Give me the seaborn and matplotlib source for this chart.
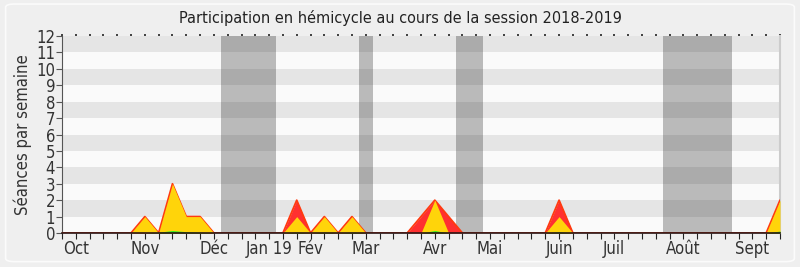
import matplotlib
matplotlib.use("Agg")
import matplotlib.pyplot as plt
from matplotlib.patches import FancyBboxPatch
import numpy as np
import pandas as pd
import seaborn as sns

# Weekly sitting counts for the 2018-2019 session (week 0 = start of October)
weeks = list(range(53))
presences = [0, 0, 0, 0, 0, 0, 1, 0, 3, 1, 1, 0, 0, 0, 0, 0, 0, 2, 0, 1,
             0, 1, 0, 0, 0, 0, 1, 2, 1, 0, 0, 0, 0, 0, 0, 0, 2, 0, 0, 0,
             0, 0, 0, 0, 0, 0, 0, 0, 0, 0, 0, 0, 2]
interventions = [0, 0, 0, 0, 0, 0, 1, 0, 3, 1, 1, 0, 0, 0, 0, 0, 0, 1, 0, 1,
                 0, 1, 0, 0, 0, 0, 0, 2, 0, 0, 0, 0, 0, 0, 0, 0, 1, 0, 0, 0,
                 0, 0, 0, 0, 0, 0, 0, 0, 0, 0, 0, 0, 2]
questions = [0, 0, 0, 0, 0, 0, 0, 0.05, 0.15, 0.08, 0.05, 0, 0, 0, 0, 0, 0, 0.05, 0, 0.05,
             0, 0.05, 0, 0, 0, 0, 0, 0.15, 0, 0, 0, 0, 0, 0, 0, 0, 0.08, 0, 0, 0,
             0, 0, 0, 0, 0, 0, 0, 0, 0, 0, 0, 0, 0.12]

# Month labels placed on the week axis
month_pos = [1, 6, 11, 15, 18, 22, 27, 31, 36, 40, 45, 50]
month_labels = ["Oct", "Nov", "Déc", "Jan 19", "Fév", "Mar", "Avr", "Mai",
                "Juin", "Juil", "Août", "Sept"]

# Parliamentary recess periods (week ranges)
recess_start = [11.5, 21.5, 28.5, 43.5]
recess_end = [15.5, 22.5, 30.5, 48.5]

df = pd.DataFrame({"semaine": weeks, "presences": presences,
                   "interventions": interventions, "questions": questions})

sns.set_theme(style="white")
plt.rcParams["font.family"] = ["DejaVu Sans"]
plt.rcParams["font.stretch"] = "condensed"

fig = plt.figure(figsize=(8, 2.67), dpi=100, facecolor="#efefef")
ax = fig.add_axes([0.0775, 0.1273, 0.8975, 0.7377])

border = FancyBboxPatch((0.007, 0.02), 0.986, 0.965, boxstyle="round,pad=0,rounding_size=0.012",
                        transform=fig.transFigure, facecolor="none", edgecolor="#fbfbfb",
                        linewidth=1.2, zorder=0)
fig.patches.append(border)

ymax = 12
xmax = 52
ax.set_facecolor("#fafafa")
for k in range(1, ymax, 2):
    ax.axhspan(k, k + 1, color="#e5e5e5", lw=0, zorder=0)

for s, e in zip(recess_start, recess_end):
    ax.axvspan(s, e, color="#282828", alpha=0.3, lw=0, zorder=1)

ax.fill_between(df["semaine"], 0, df["presences"], color="#ff3030", lw=0, zorder=2)
sns.lineplot(data=df, x="semaine", y="presences", ax=ax, color="#ff3a10", lw=1.3, zorder=3)
ax.fill_between(df["semaine"], 0, df["interventions"], color="#ffd40a", lw=0, zorder=4)
ax.fill_between(df["semaine"], 0, df["questions"], color="#22ee22", lw=0, zorder=5)

ax.set_xlim(0, xmax)
ax.set_ylim(0, ymax)
ax.set_yticks(range(0, ymax + 1))
ax.set_xticks(month_pos)
ax.set_xticklabels(month_labels)
ax.set_xticks(range(0, xmax + 1), minor=True)
ax.tick_params(axis="x", which="both", bottom=True, top=True, length=4, width=0.8,
               color="#222222", labelsize=12, labelcolor="#333333", pad=1)
ax.tick_params(axis="x", which="both", top=True, direction="inout")
ax.tick_params(axis="x", which="both", bottom=True, direction="out")
ax.xaxis.set_tick_params(which="both", top=True)
for t in ax.xaxis.get_major_ticks() + ax.xaxis.get_minor_ticks():
    t.tick2line.set_markersize(1.5)
    t.tick2line.set_markeredgewidth(1.2)
ax.tick_params(axis="y", left=True, length=4, width=0.8, color="#555555",
               labelsize=12, labelcolor="#333333", pad=1)

ax.set_xlabel("")
ax.set_ylabel("Séances par semaine", fontsize=12, color="#333333", labelpad=3)
fig.suptitle("Participation en hémicycle au cours de la session 2018-2019",
             fontsize=11.6, color="#222222", y=0.962)

ax.spines["top"].set_visible(False)
ax.spines["right"].set_color("#cccccc")
ax.spines["right"].set_linewidth(1.5)
ax.spines["left"].set_color("#555555")
ax.spines["left"].set_linewidth(0.8)
ax.spines["bottom"].set_color("#2a1414")
ax.spines["bottom"].set_linewidth(1.2)
ax.spines["bottom"].set_zorder(6)

fig.savefig("out.png", dpi=100, facecolor=fig.get_facecolor())
